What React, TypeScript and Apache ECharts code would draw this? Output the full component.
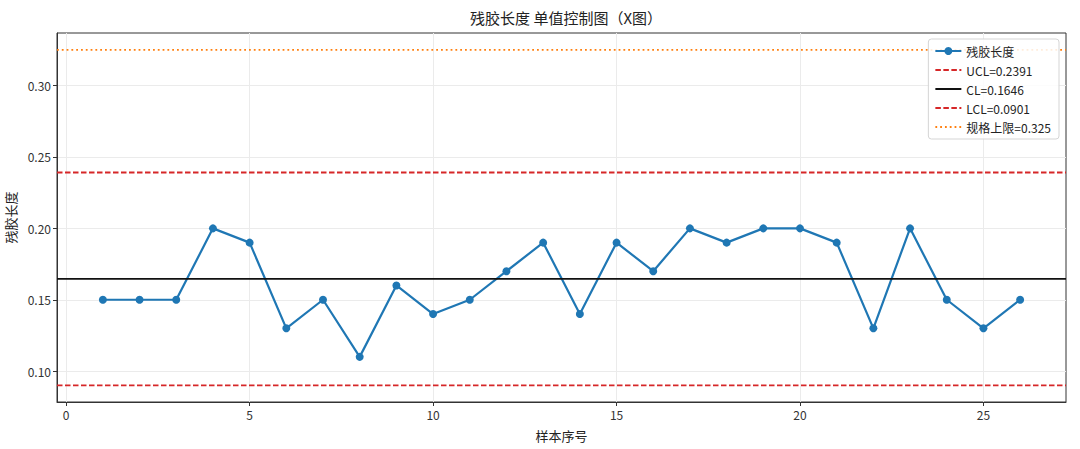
import * as echarts from "echarts";
import { useEffect, useRef } from "react";

const samples = [1, 2, 3, 4, 5, 6, 7, 8, 9, 10, 11, 12, 13, 14, 15, 16, 17, 18, 19, 20, 21, 22, 23, 24, 25, 26];
const values = [0.15, 0.15, 0.15, 0.2, 0.19, 0.13, 0.15, 0.11, 0.16, 0.14, 0.15, 0.17, 0.19, 0.14, 0.19, 0.17, 0.2, 0.19, 0.2, 0.2, 0.19, 0.13, 0.2, 0.15, 0.13, 0.15];
const ucl = 0.2391;
const cl = 0.1646;
const lcl = 0.0901;
const specUpper = 0.325;
const xTicks = [0, 5, 10, 15, 20, 25];
const yTicks = [0.1, 0.15, 0.2, 0.25, 0.3];

const X_MIN = -0.25;
const X_MAX = 27.25;
const FONT = "'Noto Sans CJK SC', 'Noto Sans', sans-serif";

function App() {
  const chartRef = useRef<HTMLDivElement>(null);

  useEffect(() => {
    const chart = echarts.init(chartRef.current, null, { renderer: "svg" });

    // horizontal reference line spanning the full x range
    const hLine = (name: string, v: number, color: string, type: any, width: number) => ({
      name,
      type: "line",
      data: [
        [X_MIN, v],
        [X_MAX, v],
      ],
      symbol: "none",
      lineStyle: { color, type, width },
      itemStyle: { color: "rgba(0,0,0,0)" },
      z: 3,
    });

    const options = {
      animation: false,
      textStyle: { fontFamily: FONT },
      title: {
        text: "残胶长度 单值控制图（X图）",
        left: 561,
        top: 5,
        textAlign: "center",
        textStyle: { fontFamily: FONT, fontSize: 15, fontWeight: "normal", color: "#222" },
      },
      legend: {
        orient: "vertical",
        right: 21,
        top: 39,
        padding: [6, 8, 6, 6],
        itemWidth: 26,
        itemHeight: 10,
        itemGap: 7,
        backgroundColor: "rgba(255,255,255,0.85)",
        borderColor: "#d5d5d5",
        borderWidth: 1,
        borderRadius: 3,
        textStyle: { fontFamily: FONT, fontSize: 12, color: "#222" },
        data: ["残胶长度", `UCL=${ucl}`, `CL=${cl}`, `LCL=${lcl}`, `规格上限=${specUpper}`],
      },
      grid: {
        left: 57,
        right: 14,
        top: 33,
        bottom: 47,
        outerBoundsMode: "none",
        show: true,
        borderColor: "#333",
        borderWidth: 1,
        backgroundColor: "transparent",
      },
      xAxis: {
        type: "value",
        min: X_MIN,
        max: X_MAX,
        name: "样本序号",
        nameLocation: "middle",
        nameGap: 27,
        nameTextStyle: { fontFamily: FONT, fontSize: 13, color: "#222" },
        axisLine: { show: true, onZero: false, lineStyle: { color: "#333" } },
        axisTick: { show: true, length: 4, customValues: xTicks, lineStyle: { color: "#333" } },
        axisLabel: {
          customValues: xTicks,
          margin: 6,
          fontFamily: FONT,
          fontSize: 12,
          color: "#333",
        },
        splitLine: { show: true, lineStyle: { color: "#ebebeb", width: 1 } },
      },
      yAxis: {
        type: "value",
        min: 0.0784,
        max: 0.3368,
        name: "残胶长度",
        nameLocation: "middle",
        nameGap: 40,
        nameTextStyle: { fontFamily: FONT, fontSize: 13, color: "#222" },
        axisLine: { show: true, onZero: false, lineStyle: { color: "#333" } },
        axisTick: { show: true, length: 4, customValues: yTicks, lineStyle: { color: "#333" } },
        axisLabel: {
          customValues: yTicks,
          margin: 6,
          fontFamily: FONT,
          fontSize: 12,
          color: "#333",
          formatter: (v: number) => v.toFixed(2),
        },
        splitLine: { show: true, lineStyle: { color: "#ebebeb", width: 1 } },
      },
      series: [
        {
          name: "残胶长度",
          type: "line",
          data: samples.map((s, i) => [s, values[i]]),
          symbol: "circle",
          symbolSize: 8,
          lineStyle: { color: "#1f77b4", width: 2.2 },
          itemStyle: { color: "#1f77b4" },
          z: 2,
        },
        hLine(`UCL=${ucl}`, ucl, "#d62728", [5.5, 2.5], 1.8),
        hLine(`CL=${cl}`, cl, "#111111", "solid", 1.8),
        hLine(`LCL=${lcl}`, lcl, "#d62728", [5.5, 2.5], 1.8),
        hLine(`规格上限=${specUpper}`, specUpper, "#ff7f0e", [1.8, 3], 1.8),
      ],
    };

    chart.setOption(options);

    return () => {
      chart.dispose();
    };
  }, []);

  return (
    <div
      ref={chartRef}
      style={{ position: "absolute", left: 0, top: 0, width: "1080px", height: "449px" }}
    />
  );
}

export default App;
